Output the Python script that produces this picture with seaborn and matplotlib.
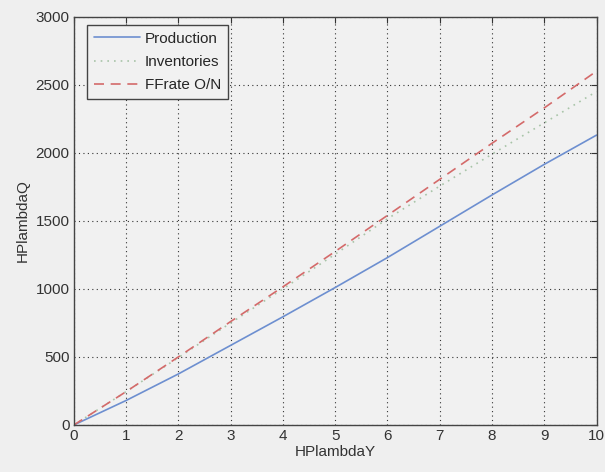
import matplotlib
matplotlib.use("Agg")
import matplotlib.pyplot as plt
import seaborn as sns
import pandas as pd

sns.set_style("white")
plt.rcParams['font.family'] = ['Liberation Sans', 'DejaVu Sans']

x_vals = [0, 1, 2, 3, 4, 5, 6, 7, 8, 9, 10]
production = [0, 180, 375, 585, 795, 1010, 1230, 1460, 1690, 1915, 2130]
inventories = [0, 245, 495, 750, 1000, 1255, 1515, 1755, 1990, 2220, 2450]
ffrate = [0, 245, 500, 760, 1015, 1275, 1540, 1805, 2070, 2330, 2600]

df = pd.DataFrame({"x": x_vals, "Production": production,
                   "Inventories": inventories, "FFrate O/N": ffrate})

fig = plt.figure(figsize=(6.05, 4.72), dpi=100, facecolor="#efefef")
ax = fig.add_axes([0.122, 0.0996, 0.864, 0.865])
ax.set_facecolor("#f1f1f1")

sns.lineplot(data=df, x="x", y="Production", ax=ax, color="#6d8fd0", lw=1.2, label="Production")
sns.lineplot(data=df, x="x", y="Inventories", ax=ax, color="#a8c4a8", lw=1.2, linestyle=(0, (1, 3)), label="Inventories")
sns.lineplot(data=df, x="x", y="FFrate O/N", ax=ax, color="#d46a6a", lw=1.2, linestyle=(0, (6, 4)), label="FFrate O/N")

ax.set_xlim(0, 10)
ax.set_ylim(0, 3000)
ax.set_xticks(range(0, 11))
ax.set_yticks(range(0, 3001, 500))
ax.grid(True, color="#333333", linestyle=(0, (1, 3)), lw=0.8)
ax.tick_params(direction="in", length=4, labelsize=11, colors="#333333", pad=3)
ax.tick_params(top=True, right=True, direction="in")
for s in ax.spines.values():
    s.set_color("#444444")
    s.set_linewidth(1.0)
ax.set_xlabel("HPlambdaY", fontsize=11, color="#333333", labelpad=1)
ax.set_ylabel("HPlambdaQ", fontsize=11, color="#333333", labelpad=4)
leg = ax.legend(loc="upper left", fontsize=11, frameon=True, fancybox=False,
                edgecolor="#444444", facecolor="#f1f1f1", framealpha=1,
                borderpad=0.45, handlelength=3.0, handletextpad=0.35, labelspacing=0.6,
                borderaxespad=0, bbox_to_anchor=(0.025, 0.98))
leg.get_frame().set_linewidth(1.0)

fig.savefig("out.png", dpi=100, facecolor=fig.get_facecolor())
